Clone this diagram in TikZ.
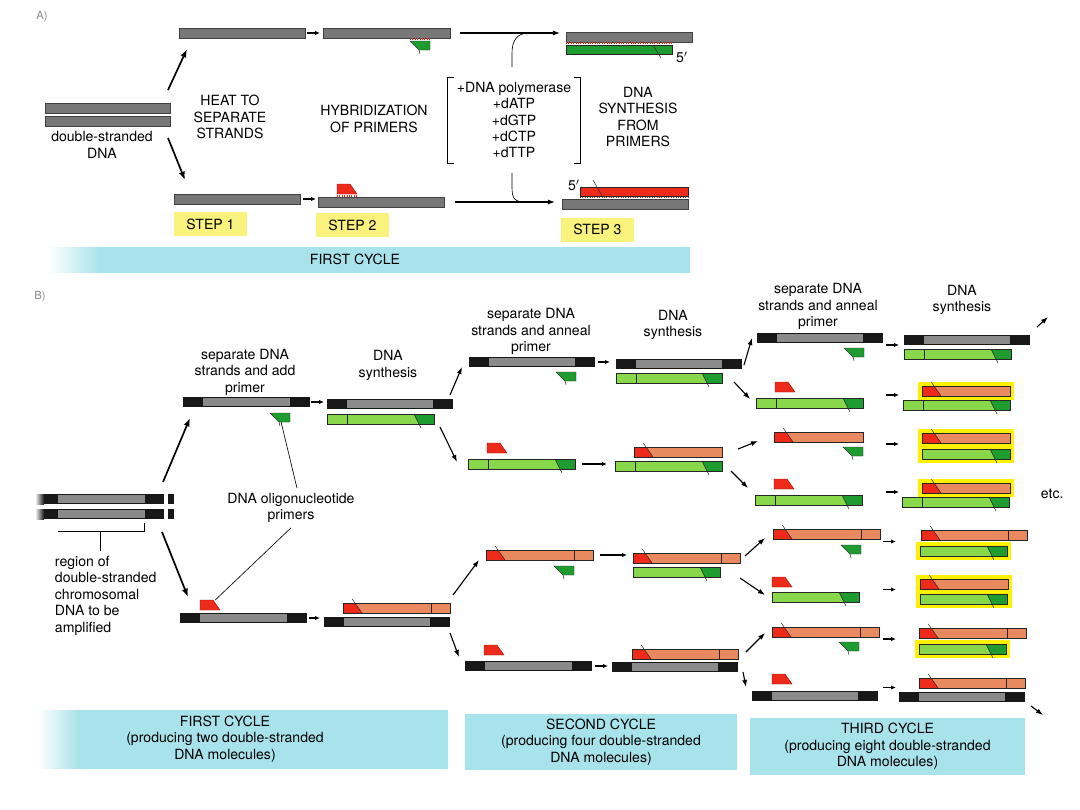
\documentclass[tikz,border=0pt]{standalone}
\usepackage{fontspec}
\setmainfont{TeX Gyre Heros}
\usetikzlibrary{arrows.meta,fit,backgrounds,calc}
\definecolor{DnaBlack}{HTML}{181818}
\definecolor{DnaGray}{HTML}{8A8A8A}
\definecolor{AGray}{HTML}{777777}
\definecolor{PrimRed}{HTML}{EE2A1B}
\definecolor{NewSalmon}{HTML}{E9895F}
\definecolor{NewGreen}{HTML}{89D84B}
\definecolor{PrimGreen}{HTML}{1E9C30}
\definecolor{HiYellow}{HTML}{FFF100}
\definecolor{StepYellow}{HTML}{F9F27C}
\definecolor{BandCyan}{HTML}{A8E2EA}
\pgfdeclarehorizontalshading{fadeA}{100bp}{color(0bp)=(white); color(25bp)=(white); color(29bp)=(BandCyan); color(100bp)=(BandCyan)}
\pgfdeclarehorizontalshading{fadeB}{100bp}{color(0bp)=(white); color(25bp)=(white); color(30bp)=(BandCyan); color(100bp)=(BandCyan)}

\tikzset{
  outl/.style={draw=black!85,line width=0.35pt},
  strandbox/.style={inner sep=0pt,outer sep=0pt},
  txt/.style={align=center,font=\fontsize{10}{11.7}\selectfont},
  stepbox/.style={fill=StepYellow,minimum width=1.8cm,minimum height=0.6cm,font=\fontsize{10}{11.7}\selectfont},
  band/.style={fill=BandCyan,inner sep=0pt,align=center,font=\fontsize{10}{11.7}\selectfont},
  hilite/.style={fill=HiYellow,inner sep=1.1mm},
  bond/.style={PrimRed,line width=1.3pt,dash pattern=on 0.5pt off 1.2pt},
  bigarr/.style={line width=1.2pt,-{Latex[length=6pt,width=4.5pt]}},
  arr/.style={line width=0.8pt,-{Latex[length=5pt,width=3.6pt]}},
  smallarr/.style={line width=0.8pt,-{Latex[length=3.5pt,width=3pt]}},
  thinline/.style={line width=0.45pt},
}

% strands: name, x0, x1, top
\newcommand{\astrand}[4]{%
  \filldraw[AGray,draw=black!75,line width=0.6pt] (#2,#4) rectangle (#3,#4+10);
  \node[strandbox,fit={(#2,#4) (#3,#4+10)}] (#1) {};}
\newcommand{\tmpl}[4]{%
  \fill[DnaBlack] (#2,#4) rectangle (#3,#4+10);
  \fill[DnaGray] (#2+20,#4+1.4) rectangle (#3-20,#4+8.6);
  \node[strandbox,fit={(#2,#4) (#3,#4+10)}] (#1) {};}
\newcommand{\gshort}[4]{%
  \fill[NewGreen] (#2,#4) rectangle (#3,#4+10);
  \fill[PrimGreen] (#3-20,#4) -- (#3,#4) -- (#3,#4+10) -- (#3-15,#4+10) -- cycle;
  \draw[outl] (#2,#4) rectangle (#3,#4+10);
  \draw[outl] (#3-20,#4) -- (#3-13,#4+14);
  \node[strandbox,fit={(#2,#4) (#3,#4+10)}] (#1) {};}
\newcommand{\glong}[4]{\gshort{#1}{#2}{#3}{#4}\draw[outl] (#2+20,#4) -- (#2+20,#4+10);}
\newcommand{\sshort}[4]{%
  \fill[NewSalmon] (#2,#4) rectangle (#3,#4+10);
  \fill[PrimRed] (#2,#4) -- (#2+12,#4) -- (#2+19,#4+10) -- (#2,#4+10) -- cycle;
  \draw[outl] (#2,#4) rectangle (#3,#4+10);
  \draw[outl] (#2+9.2,#4-4) -- (#2+19,#4+10);
  \node[strandbox,fit={(#2,#4) (#3,#4+10)}] (#1) {};}
\newcommand{\slong}[4]{\sshort{#1}{#2}{#3}{#4}\draw[outl] (#3-19,#4) -- (#3-19,#4+10);}
% primers: name, x0 (red) or x1 (green), top
\newcommand{\rprim}[3]{%
  \filldraw[PrimRed,draw=PrimRed!60!black,line width=0.3pt] (#2,#3+10) -- (#2,#3) -- (#2+13,#3) -- (#2+20,#3+10) -- cycle;
  \node[strandbox,fit={(#2,#3) (#2+20,#3+10)}] (#1) {};}
\newcommand{\gprim}[3]{%
  \filldraw[PrimGreen,draw=black!80,line width=0.3pt] (#2-20,#3) -- (#2,#3) -- (#2,#3+9) -- (#2-11,#3+9) -- cycle;
  \draw[outl] (#2-11,#3+9) -- (#2-10,#3+13);
  \node[strandbox,fit={(#2-20,#3) (#2,#3+9)}] (#1) {};}
\newcommand{\chrom}[2]{%
  \shade[left color=white,right color=DnaBlack] (35,#2) rectangle (44,#2+10);
  \fill[DnaBlack] (43.8,#2) rectangle (164,#2+10);
  \fill[DnaGray] (58,#2+1.4) rectangle (145,#2+8.6);
  \fill[DnaBlack] (168,#2) rectangle (174,#2+10);
  \node[strandbox,fit={(40,#2) (164,#2+10)}] (#1) {};}

\begin{document}
\begin{tikzpicture}[x=0.025cm,y=-0.025cm]
\begin{scope}[on background layer]
\fill[white] (0,0) rectangle (1080,810);
\end{scope}
\useasboundingbox (0,0) rectangle (1080,810);

% A
\node[txt,text=black!45,font=\footnotesize] (labA) at (42,17) {A)};
\astrand{ds1}{45}{170}{103}
\astrand{ds2}{45}{170}{116}
\node[strandbox,fit=(ds1)(ds2)] (dsA) {};
\node[txt] (dstext) at (102,145) {double-stranded\\DNA};
\astrand{a1t}{179}{305}{28}
\astrand{a1b}{174}{300}{194}
\astrand{a2t}{323}{450}{28}
\gprim{a2p}{430}{41}
\draw[bond] ([shift={(0,-1.6)}]a2p.north west) -- ([shift={(0,-1.6)}]a2p.north east);
\astrand{a2b}{318}{444}{197}
\rprim{a2r}{337}{184}
\draw[bond] ([shift={(0,1.6)}]a2r.south west) -- ([shift={(0,1.6)}]a2r.south east);
\astrand{a3t}{566}{692}{32}
\filldraw[PrimGreen,outl] (566,45) rectangle (672,54);
\draw[outl] (653,45) -- (661,58);
\node[strandbox,fit={(566,45) (672,54)}] (a3g) {};
\draw[bond] ([shift={(0,-1.6)}]a3g.north west) -- ([shift={(0,-1.6)}]a3g.north east);
\node[txt] (p5a) at (682,57) {5$'$};
\astrand{a3b}{562}{688}{199}
\filldraw[PrimRed,outl] (580,187) rectangle (688,196);
\draw[outl] (593,180) -- (602,196);
\node[strandbox,fit={(580,187) (688,196)}] (a3r) {};
\draw[bond] ([shift={(0,1.5)}]a3r.south west) -- ([shift={(0,1.5)}]a3r.south east);
\node[txt] (p5b) at (574,185) {5$'$};

\node[txt] (heat) at (230,117) {HEAT TO\\SEPARATE\\STRANDS};
\node[txt] (hybr) at (374,119) {HYBRIDIZATION\\OF PRIMERS};
\node[txt,minimum width=3.3cm,minimum height=2.125cm] (reag) at (514,120) {+DNA polymerase\\+dATP\\+dGTP\\+dCTP\\+dTTP};
\node[txt] (synA) at (638,117) {DNA\\SYNTHESIS\\FROM\\PRIMERS};
\draw[thinline] ([xshift=1.5mm]reag.north west) -- (reag.north west) -- (reag.south west) -- ([xshift=1.5mm]reag.south west);
\draw[thinline] ([xshift=-1.5mm]reag.north east) -- (reag.north east) -- (reag.south east) -- ([xshift=-1.5mm]reag.south east);

\draw[bigarr] ([shift={(-2,-13)}]dsA.north east) -- ([shift={(8,11)}]a1t.south west);
\draw[bigarr] ([shift={(-2,12)}]dsA.south east) -- ([shift={(11,-14)}]a1b.north west);
\draw[smallarr,shorten <=0.5mm,shorten >=0.75mm] (a1t.east) -- (a1t.east -| a2t.west);
\draw[smallarr,shorten <=0.75mm,shorten >=0.5mm] (a1b.east) -- (a1b.east -| a2b.west);
\coordinate (a3tin) at (a2t.east -| a3t.west);
\coordinate (a3bin) at (a2b.east -| a3b.west);
\draw[arr,shorten <=2.5mm,shorten >=1.5mm] (a2t.east) -- (a3tin);
\draw[arr,shorten <=2.75mm,shorten >=1.75mm] (a2b.east) -- (a3bin);
\coordinate (jt) at ($(a2t.east)!0.68!(a3tin)$);
\coordinate (jb) at ($(a2b.east)!0.7!(a3bin)$);
\draw[thinline] ([shift={(-2,-10)}]reag.north) -- ++(0,-14) .. controls +(0,-12) and +(-12,0) .. (jt);
\draw[thinline] ([shift={(-2,10)}]reag.south) -- ++(0,14) .. controls +(0,12) and +(-12,0) .. (jb);

\node[stepbox] (step1) at (210.5,224) {STEP 1};
\node[stepbox] (step2) at (352.5,225) {STEP 2};
\node[stepbox] (step3) at (597.5,229.5) {STEP 3};
\shade[shading=fadeA] (48,247) rectangle (690,272);
\node[txt] (cycA) at (355,259.5) {FIRST CYCLE};

% B
\node[txt,text=black!45,font=\footnotesize] (labB) at (40,297) {B)};
\chrom{chr1}{494}
\chrom{chr2}{509}
\node[strandbox,fit=(chr1)(chr2)] (chrom) {};
\node[txt,anchor=west,align=left] (regtext) at (50,595.5) {region of\\double-stranded\\chromosomal\\DNA to be\\amplified};
\draw[thinline] (58,531) -- (144,531) -- (144,523);
\coordinate (brk) at (100,531);
\draw[thinline] (brk) -- (brk |- regtext.north);

\tmpl{b1t}{183}{310}{397}
\gprim{b1tp}{290}{413}
\rprim{b1bp}{200}{600}
\tmpl{b1b}{180}{307}{613}
\tmpl{b2t}{327}{453}{399}
\glong{b2tg}{327}{434}{414}
\slong{b2bs}{343}{450}{603}
\tmpl{b2b}{324}{450}{617}

\tmpl{c1}{469}{595}{357}
\gprim{c1p}{576}{372}
\rprim{c2p}{487}{443}
\glong{c2}{468}{575}{459}
\slong{c3}{486}{593}{550}
\gprim{c3p}{574}{566}
\rprim{c4p}{484}{645}
\tmpl{c4}{465}{592}{661}
\tmpl{d1t}{616}{742}{359}
\glong{d1g}{616}{722}{373}
\sshort{d2s}{634}{722}{447}
\glong{d2g}{615}{722}{461}
\slong{d3s}{633}{740}{553}
\gshort{d3g}{633}{720}{567}
\slong{d4s}{632}{738}{649}
\tmpl{d4t}{612}{738}{662}

\tmpl{e1t}{757}{883}{333}
\gprim{e1p}{864}{348}
\rprim{e2p}{775}{382}
\glong{e2}{756}{863}{398}
\sshort{e3}{774}{863}{432}
\gprim{e3p}{863}{447}
\rprim{e4p}{774}{479}
\glong{e4}{755}{862}{495}
\slong{e5}{773}{880}{529}
\gprim{e5p}{861}{545}
\rprim{e6p}{772}{577}
\gshort{e6}{772}{859}{592}
\slong{e7}{772}{879}{627}
\gprim{e7p}{859}{642}
\rprim{e8p}{772}{674}
\tmpl{e8}{752}{878}{691}
\tmpl{f1t}{904}{1030}{335}
\glong{f1g}{904}{1011}{349}
\sshort{f2s}{922}{1010}{386}
\glong{f2g}{903}{1010}{400}
\sshort{f3s}{922}{1010}{433}
\gshort{f3g}{922}{1010}{449}
\sshort{f4s}{922}{1010}{483}
\glong{f4g}{902}{1009}{497}
\slong{f5s}{921}{1027}{530}
\gshort{f5g}{920}{1007}{546}
\sshort{f6s}{920}{1008}{579}
\gshort{f6g}{920}{1007}{594}
\slong{f7s}{919}{1026}{628}
\gshort{f7g}{919}{1006}{644}
\slong{f8s}{919}{1025}{678}
\tmpl{f8t}{899}{1025}{692}

\begin{scope}[on background layer]
\node[hilite,fit=(f2s)] (hl2) {};
\node[hilite,fit=(f3s)(f3g)] (hl3) {};
\node[hilite,fit=(f4s)] (hl4) {};
\node[hilite,fit=(f5g)] (hl5) {};
\node[hilite,fit=(f6s)(f6g)] (hl6) {};
\node[hilite,fit=(f7g)] (hl7) {};
\end{scope}

\node[strandbox,fit=(e1t)(e1p)] (E1) {};
\node[strandbox,fit=(e2p)(e2)] (E2) {};
\node[strandbox,fit=(e3)(e3p)] (E3) {};
\node[strandbox,fit=(e4p)(e4)] (E4) {};
\node[strandbox,fit=(e5)(e5p)] (E5) {};
\node[strandbox,fit=(e6p)(e6)] (E6) {};
\node[strandbox,fit=(e7)(e7p)] (E7) {};
\node[strandbox,fit=(e8p)(e8)] (E8) {};
\node[strandbox,fit=(f1t)(f1g)] (F1) {};
\node[strandbox,fit=(f2s)(f2g)] (F2) {};
\node[strandbox,fit=(f3s)(f3g)] (F3) {};
\node[strandbox,fit=(f4s)(f4g)] (F4) {};
\node[strandbox,fit=(f5s)(f5g)] (F5) {};
\node[strandbox,fit=(f6s)(f6g)] (F6) {};
\node[strandbox,fit=(f7s)(f7g)] (F7) {};
\node[strandbox,fit=(f8s)(f8t)] (F8) {};

\node[txt] (sep1) at (245,372) {separate DNA\\strands and add\\primer};
\node[txt] (syn1) at (388,365.5) {DNA\\synthesis};
\node[txt] (sep2) at (531,331.5) {separate DNA\\strands and anneal\\primer};
\node[txt] (syn2) at (673,325) {DNA\\synthesis};
\node[txt] (sep3) at (818,306.5) {separate DNA\\strands and anneal\\primer};
\node[txt] (syn3) at (962,300) {DNA\\synthesis};
\node[txt] (oligo) at (291,508) {DNA oligonucleotide\\primers};
\node[txt,anchor=west] (etc) at (1036,494) {etc.};
\draw[thinline] ([xshift=1.5mm]oligo.north) -- (b1tp);
\draw[thinline] (oligo.south) -- (b1bp);

\draw[bigarr] ([shift={(-1,-12)}]chrom.north east) -- ([shift={(7,11)}]b1t.south west);
\draw[bigarr] ([shift={(-2,13)}]chrom.south east) -- ([shift={(8,-16)}]b1b.north west);
\draw[smallarr,shorten <=0.25mm,shorten >=0.75mm] (b1t.east) -- (b1t.east -| b2t.west);
\draw[smallarr,shorten <=0.5mm,shorten >=1mm] (b1b.east) -- (b1b.east -| b2b.west);

\draw[arr] ([shift={(-3,-4)}]b2t.north east) -- ([shift={(-7,5)}]c1.west);
\draw[arr] ([shift={(6,8)}]b2tg.east) -- ([shift={(-11,-2)}]c2.west);
\draw[arr] ([shift={(3,-8)}]b2bs.north east) -- ([shift={(-7,5)}]c3.west);
\draw[arr] ([shift={(0,6)}]b2b.south east) -- ([shift={(-6,-9)}]c4.west);

\draw[smallarr,shorten <=0.75mm,shorten >=1.5mm] (c1.east) -- (c1.east -| d1t.west);
\draw[smallarr,shorten <=1.75mm,shorten >=2mm] (c2.east) -- (c2.east -| d2g.west);
\draw[smallarr,shorten <=1.75mm,shorten >=1.5mm] (c3.east) -- (c3.east -| d3s.west);
\draw[smallarr,shorten <=0.75mm,shorten >=1mm] (c4.east) -- (c4.east -| d4t.west);

\draw[arr] ([shift={(2,1)}]d1t.east) -- ([shift={(-5,0)}]e1t.west);
\draw[arr] ([shift={(12,4)}]d1g.east) -- ([shift={(-6,-4)}]e2.west);
\draw[arr] ([shift={(16,-3)}]d2s.east) -- ([shift={(-16,4)}]e3.west);
\draw[arr] ([shift={(9,5)}]d2g.east) -- ([shift={(-7,-12)}]e4.west);
\draw[arr] ([shift={(5,-2)}]d3s.east) -- ([shift={(-8,4)}]e5.west);
\draw[arr] ([shift={(20,6)}]d3g.east) -- ([shift={(-7,-2)}]e6.west);
\draw[arr] ([shift={(8,-2)}]d4s.east) -- ([shift={(-7,1)}]e7.west);
\draw[arr] ([shift={(5,5)}]d4t.east) -- ([shift={(-6,-9)}]e8.west);

\draw[smallarr,shorten <=0.75mm,shorten >=1.25mm] (E1.east) -- (E1.east -| F1.west);
\draw[smallarr,shorten <=5.75mm,shorten >=1mm] (E2.east) -- (E2.east -| F2.west);
\draw[smallarr,shorten <=5.75mm,shorten >=5.75mm] (E3.east) -- (E3.east -| F3.west);
\draw[smallarr,shorten <=6mm,shorten >=0.75mm] (E4.east) -- (E4.east -| F4.west);
\draw[smallarr,shorten <=0.75mm,shorten >=6mm] (E5.east) -- (E5.east -| F5.west);
\draw[smallarr,shorten <=6mm,shorten >=6mm] (E6.east) -- (E6.east -| F6.west);
\draw[smallarr,shorten <=1mm,shorten >=5.75mm] (E7.east) -- (E7.east -| F7.west);
\draw[smallarr,shorten <=1.25mm,shorten >=0.75mm] (E8.east) -- (E8.east -| F8.west);

\coordinate (free1) at (1048,317);
\coordinate (free8) at (1043,715);
\draw[arr] ([shift={(7,-8)}]f1t.north east) -- (free1);
\draw[arr] ([shift={(6,4)}]f8t.south east) -- (free8);

\shade[shading=fadeB] (38,710) rectangle (448,768);
\node[txt] (cyc1) at (225,739) {FIRST CYCLE\\(producing two double-stranded\\DNA molecules)};
\node[band,minimum width=6.8cm,minimum height=1.4cm] (cyc2) at (601,742) {SECOND CYCLE\\(producing four double-stranded\\DNA molecules)};
\node[band,minimum width=6.875cm,minimum height=1.425cm] (cyc3) at (887.5,746.5) {THIRD CYCLE\\(producing eight double-stranded\\DNA molecules)};
\end{tikzpicture}
\end{document}
